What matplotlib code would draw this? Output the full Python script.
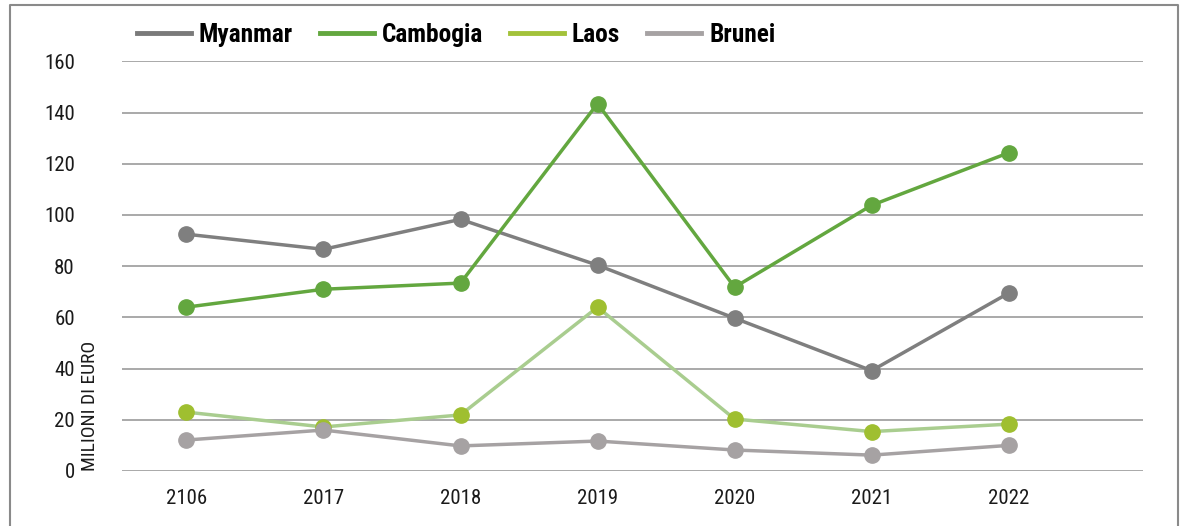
import matplotlib
matplotlib.use("Agg")
import matplotlib.pyplot as plt
from matplotlib.lines import Line2D
from matplotlib import font_manager

# narrow face if one is around, else Roboto
installed = {f.name for f in font_manager.fontManager.ttflist}
font = 'Roboto'
for cand in ['Liberation Sans Narrow', 'Roboto Condensed']:
    if cand in installed:
        font = cand
        break
plt.rcParams['font.family'] = [font, 'DejaVu Sans']

years = ['2106', '2017', '2018', '2019', '2020', '2021', '2022']
myanmar = [92.5, 86.6, 98.3, 80.4, 59.7, 39.2, 69.5]
cambogia = [64.0, 71.0, 73.4, 143.5, 71.8, 103.8, 124.3]
laos = [23.0, 17.2, 21.9, 64.0, 20.3, 15.4, 18.3]
brunei = [12.1, 16.0, 9.8, 11.7, 8.2, 6.2, 10.0]

series = [
    ('Myanmar', myanmar, '#7f7f7f', '#7f7f7f'),
    ('Cambogia', cambogia, '#63a73f', '#63a73f'),
    ('Laos', laos, '#a9cd8f', '#9fbf30'),
    ('Brunei', brunei, '#a6a2a3', '#a6a2a3'),
]
legend_colors = ['#7a7a7a', '#63a73f', '#a3c23a', '#a6a2a3']

W, H = 1184, 526
fig = plt.figure(figsize=(W / 100, H / 100), dpi=100)
ax = fig.add_axes([122 / W, 1 - 471 / H, (1143 - 122) / W, (471 - 61.4) / H])

x = list(range(len(years)))
for name, vals, lc, mc in series:
    ax.plot(x, vals, color=lc, lw=2.5, zorder=3)
    ax.plot(x, vals, 'o', color=mc, ms=11, zorder=4, clip_on=False)

ax.set_ylim(0, 160)
ax.set_xlim(-0.47, 6.98)
ax.set_yticks(range(0, 161, 20))
ax.set_xticks(x)
ax.set_xticklabels(years)
ax.grid(axis='y', color='#a3a3a3', lw=1.3)
ax.set_axisbelow(True)
for s in ax.spines.values():
    s.set_visible(False)
ax.tick_params(length=0, labelsize=15, colors='#1a1a1a')
ax.tick_params(axis='y', pad=34)
ax.tick_params(axis='x', pad=13)

fig.text(90 / W, 1 - 471 / H, 'MILIONI DI EURO', rotation=90, ha='center',
         va='bottom', fontsize=14, color='#1a1a1a')

# legend text size: make "Myanmar" about 94 px wide
r = fig.canvas.get_renderer()
probe = fig.text(0, 0, 'Myanmar', fontsize=10, weight='bold')
wpx = probe.get_window_extent(r).width
probe.remove()
lsize = 10 * 94 / wpx
fpx = lsize * 100 / 72

handles = [Line2D([], [], color=c, lw=3.5) for c in legend_colors]
fig.legend(handles, [s[0] for s in series], loc='center', ncol=4,
           bbox_to_anchor=(456 / W, 1 - 35 / H), frameon=False,
           prop={'weight': 'bold', 'size': lsize}, handlelength=54 / fpx,
           handletextpad=8 / fpx, columnspacing=27 / fpx,
           borderpad=0, borderaxespad=0)

# outer frame (no bottom edge)
fig.add_artist(Line2D([9.5 / W, 9.5 / W, 1178 / W, 1178 / W],
                      [0, 1 - 5 / H, 1 - 5 / H, 0],
                      color='#8a8a8a', lw=1.5))

fig.savefig('out.png', dpi=100)
